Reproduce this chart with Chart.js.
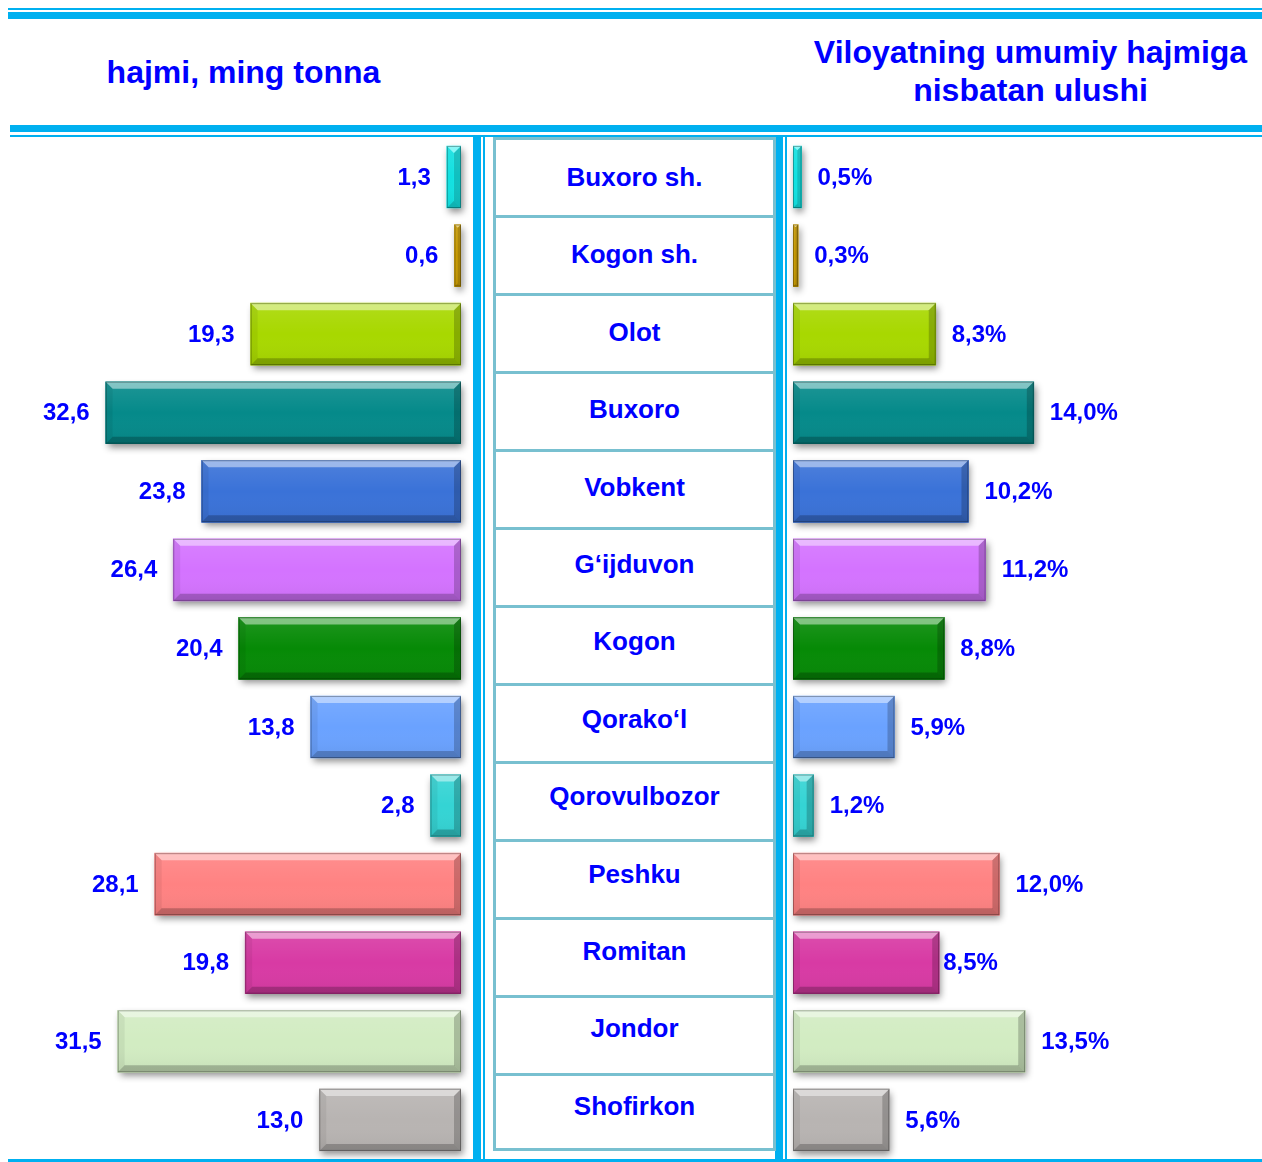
<!DOCTYPE html>
<html><head><meta charset="utf-8">
<script src="https://cdn.jsdelivr.net/npm/chart.js@4.4.1/dist/chart.umd.min.js"></script>
<style>
html,body{margin:0;padding:0;background:#fff;}
body{width:1262px;height:1162px;position:relative;overflow:hidden;font-family:"Liberation Sans",Arial,sans-serif;}
.ln{position:absolute;background:#00b0f0;}
.hdr{position:absolute;color:#0000ff;font-weight:bold;font-size:32px;text-align:center;line-height:38.4px;}
canvas{position:absolute;}
#tbl{position:absolute;left:493px;top:137px;width:283px;height:1014px;box-sizing:border-box;border:3px solid #78c0d0;}
.rowln{position:absolute;left:0;width:100%;height:3px;background:#78c0d0;}
.cell{position:absolute;left:0;width:100%;height:40px;line-height:40px;text-align:center;color:#0000ff;font-weight:bold;font-size:26px;}
</style></head>
<body>
<div class="ln" style="left:8px;top:8px;width:1254px;height:2px"></div>
<div class="ln" style="left:8px;top:12px;width:1254px;height:7px"></div>
<div class="ln" style="left:10px;top:125px;width:1252px;height:7px"></div>
<div class="ln" style="left:10px;top:135px;width:1252px;height:2px"></div>
<div class="ln" style="left:473px;top:137px;width:8px;height:1025px"></div>
<div class="ln" style="left:483px;top:137px;width:2px;height:1025px"></div>
<div class="ln" style="left:775px;top:137px;width:8px;height:1025px"></div>
<div class="ln" style="left:785px;top:137px;width:2px;height:1025px"></div>
<div class="ln" style="left:8px;top:1159px;width:1254px;height:3px"></div>
<div class="hdr" style="left:0;top:53px;width:487px">hajmi, ming tonna</div>
<div class="hdr" style="left:800px;top:33px;width:461px">Viloyatning umumiy hajmiga<br>nisbatan ulushi</div>
<div id="tbl"></div>
<canvas id="left" width="470" height="1035" style="left:0;top:130px"></canvas>
<canvas id="right" width="475" height="1035" style="left:787px;top:130px"></canvas>
<script>
const categories = ["Buxoro sh.","Kogon sh.","Olot","Buxoro","Vobkent","G\u2018ijduvon","Kogon","Qorako\u2018l","Qorovulbozor","Peshku","Romitan","Jondor","Shofirkon"];
const volumes = [1.3,0.6,19.3,32.6,23.8,26.4,20.4,13.8,2.8,28.1,19.8,31.5,13.0];
const shares = [0.5,0.3,8.3,14.0,10.2,11.2,8.8,5.9,1.2,12.0,8.5,13.5,5.6];
const barColors = ["#14f0f0","#d4a404","#a8d800","#058a8a","#3a72d8","#d473ff","#068a06","#6aa2ff","#34d4d4","#ff8282","#d83aa4","#d2ecc2","#b8b4b2"];

// middle table
const tbl = document.getElementById('tbl');
const ROW = 78;
categories.forEach((c,i)=>{
  if(i>0){const l=document.createElement('div');l.className='rowln';l.style.top=(i*ROW-3)+'px';tbl.appendChild(l);}
  const d=document.createElement('div');d.className='cell';
  const center = 177 + i*77.4 - 140; // text centre within the table content box
  d.style.top=(center-20)+'px';d.textContent=c;tbl.appendChild(d);
});

function rectOf(el){
  const L=Math.min(el.x,el.base),R=Math.max(el.x,el.base);
  return {L,R,T:el.y-el.height/2,B:el.y+el.height/2};
}
function poly(ctx,pts,fill){ctx.beginPath();ctx.moveTo(pts[0][0],pts[0][1]);for(let k=1;k<pts.length;k++)ctx.lineTo(pts[k][0],pts[k][1]);ctx.closePath();ctx.fillStyle=fill;ctx.fill();}
const bevelPlugin = {
  id:'bevel',
  beforeDatasetsDraw(chart){
    const ctx=chart.ctx;const meta=chart.getDatasetMeta(0);
    meta.data.forEach((el,i)=>{
      const r=rectOf(el);
      ctx.save();ctx.shadowColor='rgba(0,0,0,0.45)';ctx.shadowBlur=7;ctx.shadowOffsetX=2;ctx.shadowOffsetY=4;
      ctx.fillStyle=barColors[i];ctx.fillRect(r.L,r.T,r.R-r.L,r.B-r.T);ctx.restore();
    });
  },
  afterDatasetsDraw(chart){
    const ctx=chart.ctx;const meta=chart.getDatasetMeta(0);
    meta.data.forEach((el,i)=>{
      const {L,R,T,B}=rectOf(el);
      const b=Math.min(7,(R-L)/2,(B-T)/2);
      ctx.save();
      const g=ctx.createLinearGradient(0,T,0,B);
      g.addColorStop(0,'rgba(255,255,255,0.10)');g.addColorStop(0.5,'rgba(255,255,255,0)');g.addColorStop(1,'rgba(0,0,0,0.06)');
      ctx.fillStyle=g;ctx.fillRect(L,T,R-L,B-T);
      poly(ctx,[[L,T],[R,T],[R-b,T+b],[L+b,T+b]],'rgba(255,255,255,0.45)');
      poly(ctx,[[L,B],[R,B],[R-b,B-b],[L+b,B-b]],'rgba(0,0,0,0.22)');
      poly(ctx,[[L,T],[L+b,T+b],[L+b,B-b],[L,B]],'rgba(0,0,0,0.06)');
      poly(ctx,[[R,T],[R-b,T+b],[R-b,B-b],[R,B]],'rgba(0,0,0,0.2)');
      ctx.strokeStyle='rgba(0,0,0,0.3)';ctx.lineWidth=1;ctx.strokeRect(L+0.5,T+0.5,R-L-1,B-T-1);
      ctx.restore();
    });
  }
};
function labelPlugin(side,suffix,gaps){
  return {id:'vlabels',afterDatasetsDraw(chart){
    const ctx=chart.ctx;const meta=chart.getDatasetMeta(0);const data=chart.data.datasets[0].data;
    ctx.save();ctx.font='bold 24px "Liberation Sans", Arial, sans-serif';ctx.fillStyle='#0000ff';ctx.textBaseline='middle';
    meta.data.forEach((el,i)=>{
      const t=data[i].toFixed(1).replace('.',',')+suffix;
      const gap = (gaps && gaps[i]!==undefined) ? gaps[i] : 16;
      if(side==='left'){ctx.textAlign='right';ctx.fillText(t,el.x-gap,el.y+1);}
      else{ctx.textAlign='left';ctx.fillText(t,el.x+gap,el.y+1);}
    });
    ctx.restore();
  }};
}
function makeChart(id,vals,side,max,pad,suffix,gaps){
  return new Chart(document.getElementById(id),{
    type:'bar',
    data:{labels:categories,datasets:[{data:vals,backgroundColor:barColors,borderWidth:0,barThickness:62}]},
    options:{
      indexAxis:'y',responsive:false,animation:false,
      layout:{padding:pad},
      scales:{x:{reverse:side==='left',min:0,max:max,display:false},y:{display:false,offset:true}},
      plugins:{legend:{display:false},tooltip:{enabled:false}}
    },
    plugins:[bevelPlugin,labelPlugin(side,suffix,gaps)]
  });
}
makeChart('left',volumes,'left',40,{left:25,right:9,top:7.7,bottom:5.8},'',null);
makeChart('right',shares,'right',25,{left:6,right:39,top:7.7,bottom:5.8},'%',{10:4});
</script>
</body></html>
